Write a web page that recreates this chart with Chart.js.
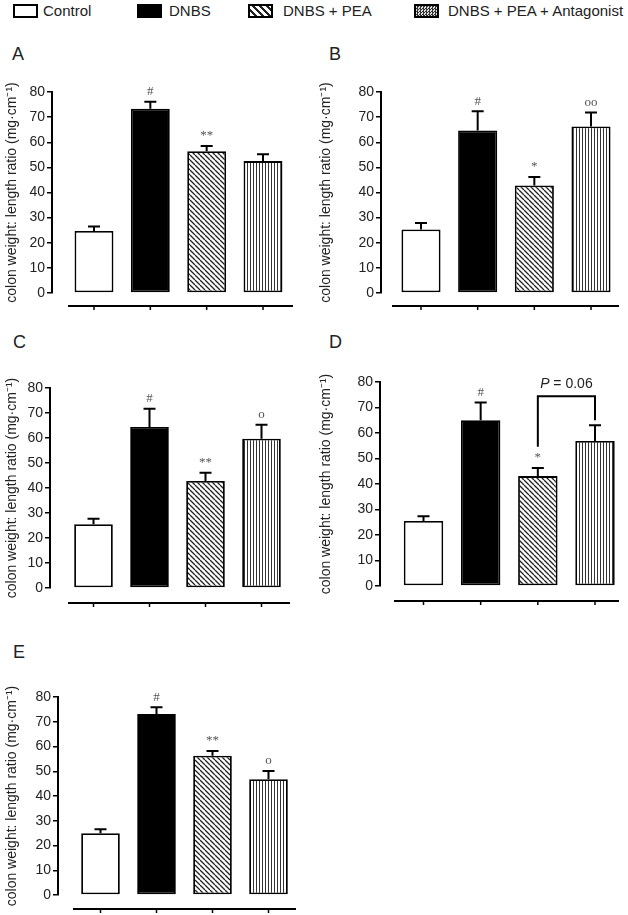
<!DOCTYPE html>
<html>
<head>
<meta charset="utf-8">
<script src="https://cdn.jsdelivr.net/npm/chart.js@4/dist/chart.umd.min.js"></script>
<style>
  body { margin: 0; background: #fff; }
  #wrap { position: relative; width: 628px; height: 915px; font-family: "Liberation Sans", Arial, sans-serif; color: #222; overflow: hidden; }
  canvas { position: absolute; }
  .lab { position: absolute; font-size: 18px; line-height: 18px; }
  .leg { position: absolute; top: 3px; font-size: 15px; line-height: 16px; white-space: nowrap; }
  .sw { position: absolute; top: 4px; width: 25px; height: 14px; box-sizing: border-box; border: 2px solid #000; background: #fff; }
</style>
</head>
<body>
<div id="wrap">
  <div class="sw" style="left:13px"></div><div class="leg" style="left:43px">Control</div>
  <div class="sw" style="left:137px;background:#000"></div><div class="leg" style="left:169px">DNBS</div>
  <div class="sw" style="left:248px;background:repeating-linear-gradient(45deg,#fff 0 3px,#222 3px 5px)"></div><div class="leg" style="left:283px">DNBS + PEA</div>
  <div class="sw" style="left:414px;background:repeating-conic-gradient(#333 0 25%,#ddd 0 50%) 0 0/3px 3px"></div><div class="leg" style="left:448px">DNBS + PEA + Antagonist</div>
</div>
<script>
const groups = ['Control', 'DNBS', 'DNBS + PEA', 'DNBS + PEA + Antagonist']
const yTicks = [0, 10, 20, 30, 40, 50, 60, 70, 80]
const yTitle = 'colon weight: length ratio (mg·cm⁻¹)'

const meanA = [24.7, 73.3, 56.4, 52.5]
const semA = [1.8, 2.8, 2.1, 2.7]
const markA = ['', '#', '**', '']

const meanB = [25.3, 64.7, 42.8, 66.3]
const semB = [2.6, 7.6, 3.4, 5.5]
const markB = ['', '#', '*', 'oo']

const meanC = [25.5, 64.4, 42.8, 59.7]
const semC = [2.2, 7.3, 3.3, 5.6]
const markC = ['', '#', '**', 'o']

const meanD = [25.5, 65, 43.1, 56.9]
const semD = [1.9, 7, 3.2, 6.1]
const markD = ['', '#', '*', '']
// bar from, bar to, left foot, top, right foot
const bracketD = [2, 3, 54.6, 74.4, 65]
const bracketTextD = ['P', ' = 0.06']

const meanE = [25, 73.1, 56.3, 46.8]
const semE = [1.6, 2.8, 1.9, 3.3]
const markE = ['', '#', '**', 'o']

// layout of each panel on the page (pixels)
const panels = [
  { id: 'A', left: 0, top: 60, w: 306, h: 260, axisX: 52, y80: 92, y0: 293, c0: 94, c3: 263, axisL: 68, axisR: 293, gap: 13, lx: 12, ly: 45, mean: meanA, sem: semA, mark: markA },
  { id: 'B', left: 314, top: 60, w: 314, h: 260, axisX: 381, y80: 92, y0: 293, c0: 421, c3: 591, axisL: 392, axisR: 619, gap: 13, lx: 329, ly: 45, mean: meanB, sem: semB, mark: markB },
  { id: 'C', left: 0, top: 360, w: 306, h: 260, axisX: 50, y80: 388, y0: 588, c0: 93.5, c3: 261.5, axisL: 68, axisR: 290, gap: 15, lx: 13, ly: 333, mean: meanC, sem: semC, mark: markC },
  { id: 'D', left: 314, top: 360, w: 314, h: 260, axisX: 380, y80: 382, y0: 586, c0: 423.5, c3: 595, axisL: 394, axisR: 619, gap: 15, lx: 329, ly: 333, mean: meanD, sem: semD, mark: markD, bracket: bracketD, bracketText: bracketTextD },
  { id: 'E', left: 0, top: 670, w: 306, h: 245, axisX: 58, y80: 697, y0: 895, c0: 100.5, c3: 268.5, axisL: 73, axisR: 296, gap: 14, lx: 13, ly: 643, mean: meanE, sem: semE, mark: markE }
]

const wrap = document.getElementById('wrap')
const FONT = '"Liberation Sans", Arial, sans-serif'

function hatch(kind) {
  const c = document.createElement('canvas')
  const g = c.getContext('2d')
  if (kind === 'diag') {
    c.width = 5; c.height = 5
    g.fillStyle = '#fff'; g.fillRect(0, 0, 5, 5)
    g.strokeStyle = '#222'; g.lineWidth = 1.3
    g.beginPath()
    for (const k of [-1, 0, 1]) { g.moveTo(k * 5, 0); g.lineTo(k * 5 + 5, 5) }
    g.stroke()
  } else {
    c.width = 3; c.height = 1
    g.fillStyle = '#fff'; g.fillRect(0, 0, 3, 1)
    g.fillStyle = '#333'; g.fillRect(1, 0, 1, 1)
  }
  return g.createPattern(c, 'repeat')
}
const fills = ['#fff', '#000', hatch('diag'), hatch('vert')]

function overlay(p, lineMin, lineMax) {
  return {
    id: 'overlay' + p.id,
    afterDatasetsDraw(chart) {
      const { ctx, chartArea, scales: { x, y } } = chart
      ctx.save()
      ctx.strokeStyle = '#000'
      p.mean.forEach((m, i) => {
        const cx = x.getPixelForValue(i)
        const yb = y.getPixelForValue(m)
        const yt = y.getPixelForValue(m + p.sem[i])
        ctx.lineWidth = 2
        ctx.beginPath()
        ctx.moveTo(cx, yb); ctx.lineTo(cx, yt)
        ctx.moveTo(cx - 6, yt); ctx.lineTo(cx + 6, yt)
        ctx.stroke()
        if (p.mark[i]) {
          ctx.fillStyle = '#555'
          ctx.font = '13px "Liberation Serif", serif'
          ctx.textAlign = 'center'
          ctx.textBaseline = 'middle'
          ctx.fillText(p.mark[i], cx, yt - 10)
        }
      })
      // detached x axis
      const ay = chartArea.bottom + p.gap
      ctx.lineWidth = 2
      ctx.beginPath()
      ctx.moveTo(x.getPixelForValue(lineMin), ay)
      ctx.lineTo(x.getPixelForValue(lineMax), ay)
      ctx.stroke()
      ctx.lineWidth = 1.5
      groups.forEach((g, i) => {
        const cx = x.getPixelForValue(i)
        ctx.beginPath(); ctx.moveTo(cx, ay); ctx.lineTo(cx, ay + 4); ctx.stroke()
      })
      if (p.bracket) {
        const [a, b, f1, top, f2] = p.bracket
        const xa = x.getPixelForValue(a), xb = x.getPixelForValue(b)
        ctx.lineWidth = 2
        ctx.beginPath()
        ctx.moveTo(xa, y.getPixelForValue(f1))
        ctx.lineTo(xa, y.getPixelForValue(top))
        ctx.lineTo(xb, y.getPixelForValue(top))
        ctx.lineTo(xb, y.getPixelForValue(f2))
        ctx.stroke()
        const [t1, t2] = p.bracketText
        ctx.fillStyle = '#222'
        ctx.textBaseline = 'middle'
        ctx.textAlign = 'left'
        ctx.font = 'italic 14px ' + FONT
        const w1 = ctx.measureText(t1).width
        ctx.font = '14px ' + FONT
        const w2 = ctx.measureText(t2).width
        const tx = (xa + xb) / 2 - (w1 + w2) / 2
        const ty = y.getPixelForValue(top) - 12
        ctx.font = 'italic 14px ' + FONT
        ctx.fillText(t1, tx, ty)
        ctx.font = '14px ' + FONT
        ctx.fillText(t2, tx + w1, ty)
      }
      ctx.restore()
    }
  }
}

function drawPanel(p) {
  const lab = document.createElement('div')
  lab.className = 'lab'
  lab.textContent = p.id
  lab.style.left = p.lx + 'px'
  lab.style.top = p.ly + 'px'
  wrap.appendChild(lab)

  const cv = document.createElement('canvas')
  cv.width = p.w; cv.height = p.h
  cv.style.left = p.left + 'px'; cv.style.top = p.top + 'px'
  wrap.appendChild(cv)

  const u = (p.c3 - p.c0) / 3
  const xMin = -(p.c0 - p.axisX) / u
  const xMax = 3 + (p.left + p.w - p.c3) / u
  const lineMin = -(p.c0 - p.axisL) / u
  const lineMax = 3 + (p.axisR - p.c3) / u

  new Chart(cv, {
    type: 'bar',
    data: {
      datasets: [{
        label: 'colon weight',
        data: p.mean.map((v, i) => ({ x: i, y: v })),
        backgroundColor: fills,
        borderColor: '#000',
        borderWidth: 1.8,
        borderSkipped: false,
        barPercentage: 0.69,
        categoryPercentage: 1
      }]
    },
    options: {
      responsive: false,
      animation: false,
      layout: { padding: { top: p.y80 - p.top, bottom: p.top + p.h - p.y0, left: 0, right: 0 } },
      plugins: { legend: { display: false }, tooltip: { enabled: false } },
      scales: {
        x: { type: 'linear', display: false, offset: false, min: xMin, max: xMax },
        y: {
          min: 0,
          max: 80,
          afterBuildTicks: s => { s.ticks = yTicks.map(v => ({ value: v })) },
          afterFit: s => { s.width = p.axisX - p.left },
          ticks: { font: { size: 14, family: FONT }, color: '#222', padding: 2 },
          grid: { drawOnChartArea: false, drawTicks: true, tickLength: 5, color: '#000', lineWidth: 1.5 },
          border: { display: true, color: '#000', width: 2 },
          title: { display: true, text: yTitle, font: { size: 14, family: FONT }, color: '#222', padding: { top: 4, bottom: 0 } }
        }
      }
    },
    plugins: [overlay(p, lineMin, lineMax)]
  })
}

panels.forEach(drawPanel)
</script>
</body>
</html>
